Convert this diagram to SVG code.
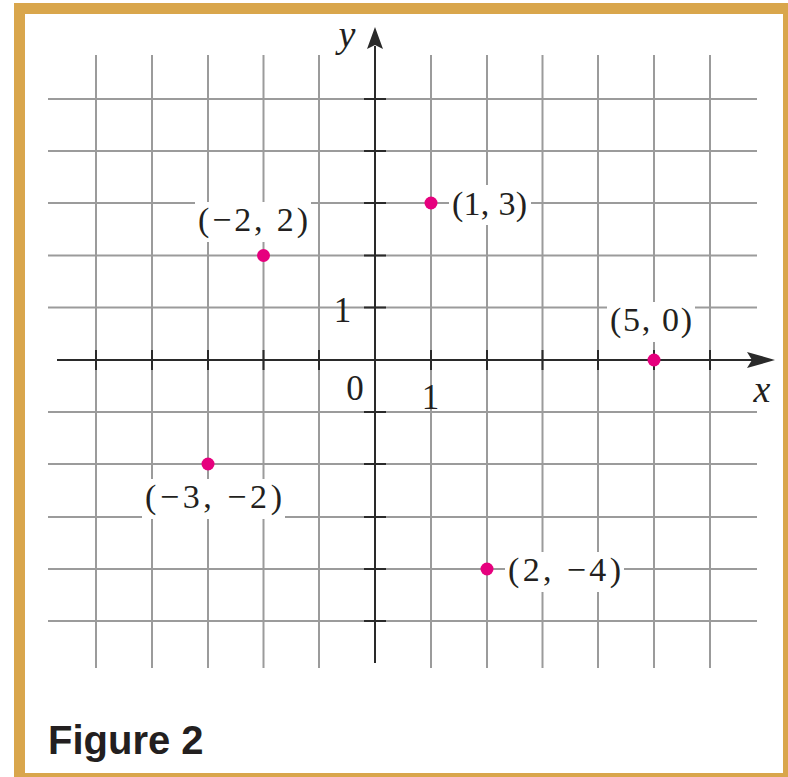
<svg xmlns="http://www.w3.org/2000/svg" width="788" height="777" viewBox="0 0 788 777">
<style>
.grid line{stroke:#9b9b9b;stroke-width:2}
.axis{stroke:#2a2a2a;stroke-width:2;fill:none}
.tick{stroke:#2a2a2a;stroke-width:2}
.lbl{font-family:"Liberation Serif","Times New Roman",serif;font-size:34px;fill:#231f20}
.num{font-family:"Liberation Serif","Times New Roman",serif;font-size:35px;fill:#231f20;text-anchor:middle}
.var{font-family:"Liberation Serif","Times New Roman",serif;font-style:italic;font-size:38px;fill:#231f20;text-anchor:middle}
.bg{fill:#ffffff}
.dot{fill:#e6007e}
</style>
<rect x="0" y="0" width="788" height="777" fill="#ffffff"/>
<rect x="19.5" y="8.5" width="769" height="770" fill="none" stroke="#d9a64c" stroke-width="11"/>
<g id="grid" class="grid">
<line x1="96" y1="55" x2="96" y2="668"/>
<line x1="152" y1="55" x2="152" y2="668"/>
<line x1="208" y1="55" x2="208" y2="668"/>
<line x1="263.5" y1="55" x2="263.5" y2="668"/>
<line x1="319" y1="55" x2="319" y2="668"/>
<line x1="431" y1="55" x2="431" y2="668"/>
<line x1="487" y1="55" x2="487" y2="668"/>
<line x1="542.5" y1="55" x2="542.5" y2="668"/>
<line x1="598" y1="55" x2="598" y2="668"/>
<line x1="654" y1="55" x2="654" y2="668"/>
<line x1="710" y1="55" x2="710" y2="668"/>
<line x1="48" y1="99" x2="757" y2="99"/>
<line x1="48" y1="151" x2="757" y2="151"/>
<line x1="48" y1="203" x2="757" y2="203"/>
<line x1="48" y1="255.5" x2="757" y2="255.5"/>
<line x1="48" y1="307.5" x2="757" y2="307.5"/>
<line x1="48" y1="412" x2="757" y2="412"/>
<line x1="48" y1="464" x2="757" y2="464"/>
<line x1="48" y1="517" x2="757" y2="517"/>
<line x1="48" y1="569" x2="757" y2="569"/>
<line x1="48" y1="621" x2="757" y2="621"/>
</g>
<g id="axes">
<line class="axis" x1="57" y1="360" x2="752" y2="360"/>
<path d="M775,360 L747,352 L752,360 L747,368 Z" fill="#2a2a2a"/>
<line class="axis" x1="375" y1="663" x2="375" y2="46"/>
<path d="M375,27 L367,49 L375,45 L383,49 Z" fill="#2a2a2a"/>
<g class="tick">
<line x1="96" y1="350" x2="96" y2="370"/>
<line x1="152" y1="350" x2="152" y2="370"/>
<line x1="208" y1="350" x2="208" y2="370"/>
<line x1="263.5" y1="350" x2="263.5" y2="370"/>
<line x1="319" y1="350" x2="319" y2="370"/>
<line x1="431" y1="350" x2="431" y2="370"/>
<line x1="487" y1="350" x2="487" y2="370"/>
<line x1="542.5" y1="350" x2="542.5" y2="370"/>
<line x1="598" y1="350" x2="598" y2="370"/>
<line x1="654" y1="350" x2="654" y2="370"/>
<line x1="710" y1="350" x2="710" y2="370"/>
<line x1="364" y1="99" x2="386" y2="99"/>
<line x1="364" y1="151" x2="386" y2="151"/>
<line x1="364" y1="203" x2="386" y2="203"/>
<line x1="364" y1="255.5" x2="386" y2="255.5"/>
<line x1="364" y1="307.5" x2="386" y2="307.5"/>
<line x1="364" y1="412" x2="386" y2="412"/>
<line x1="364" y1="464" x2="386" y2="464"/>
<line x1="364" y1="517" x2="386" y2="517"/>
<line x1="364" y1="569" x2="386" y2="569"/>
<line x1="364" y1="621" x2="386" y2="621"/>
</g>
<text class="var" x="762" y="402">x</text>
<text class="var" x="347" y="47">y</text>
<text class="num" x="342.5" y="322">1</text>
<text class="num" x="355" y="400">0</text>
<text class="num" x="430.5" y="409">1</text>
</g>
<g id="p1-3">
<rect class="bg" x="449" y="185" width="82" height="40"/>
<circle class="dot" cx="431" cy="203" r="6.5"/>
<text class="lbl" x="452" y="215" textLength="75" lengthAdjust="spacing">(1, 3)</text>
</g>
<g id="pm2-2">
<rect class="bg" x="195" y="202" width="116" height="40"/>
<circle class="dot" cx="263.5" cy="255.5" r="6.5"/>
<text class="lbl" x="198" y="231" textLength="110" lengthAdjust="spacing">(−2, 2)</text>
</g>
<g id="p5-0">
<rect class="bg" x="607" y="302" width="88" height="40"/>
<circle class="dot" cx="654" cy="360" r="6.5"/>
<text class="lbl" x="610" y="331" textLength="82" lengthAdjust="spacing">(5, 0)</text>
</g>
<g id="pm3-m2">
<rect class="bg" x="142" y="479" width="143" height="40"/>
<circle class="dot" cx="208" cy="464" r="6.5"/>
<text class="lbl" x="145" y="508" textLength="137" lengthAdjust="spacing">(−3, −2)</text>
</g>
<g id="p2-m4">
<rect class="bg" x="505" y="552" width="119" height="40"/>
<circle class="dot" cx="487" cy="569" r="6.5"/>
<text class="lbl" x="508" y="581" textLength="113" lengthAdjust="spacing">(2, −4)</text>
</g>
<text x="48" y="754" font-family="'Liberation Sans',Arial,sans-serif" font-weight="bold" font-size="40" fill="#231f20">Figure 2</text>
</svg>
